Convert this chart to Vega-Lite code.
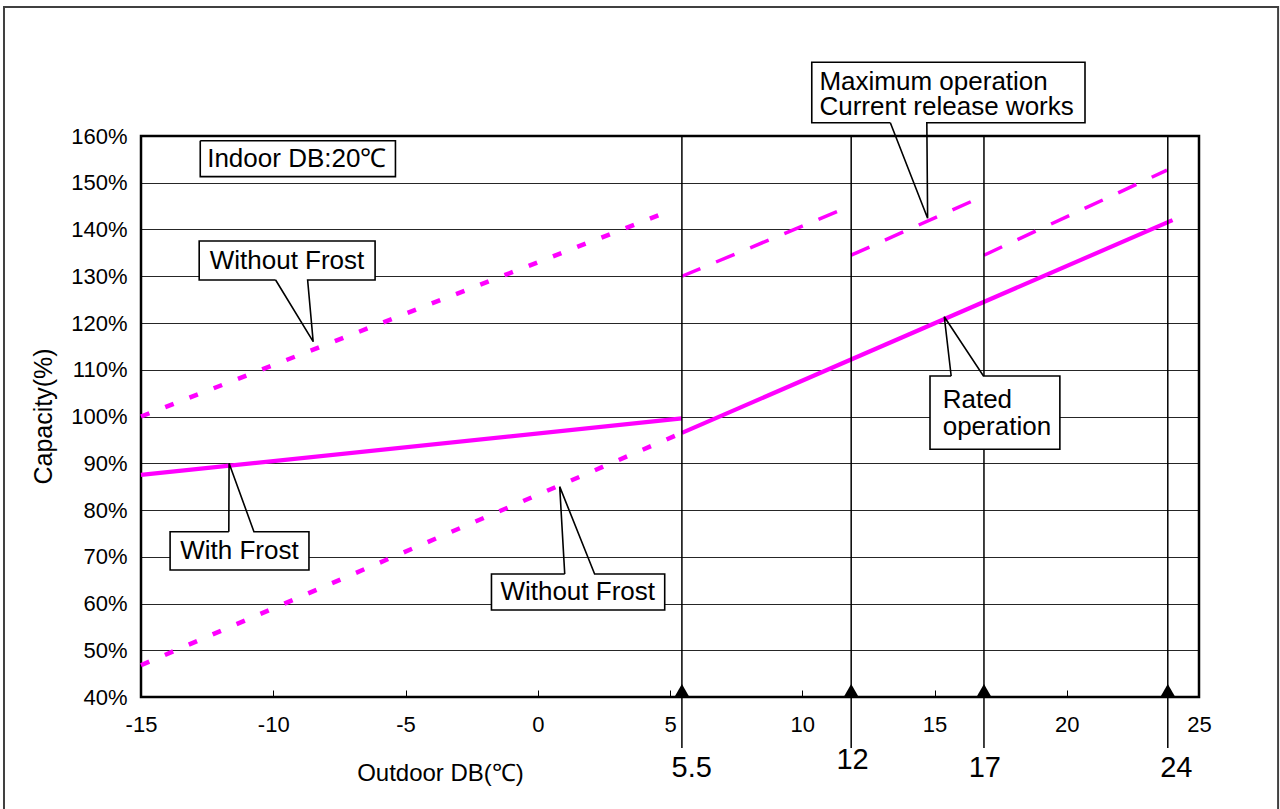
{
  "$schema": "https://vega.github.io/schema/vega-lite/v6.json",
  "width": 1058,
  "height": 561,
  "autosize": {"type": "none"},
  "padding": {"left": 141, "top": 136, "right": 81, "bottom": 112},
  "background": "white",
  "config": {
    "font": "Liberation Sans",
    "view": {"stroke": "#000", "strokeWidth": 2.5},
    "axis": {"labelColor": "#000", "titleColor": "#000", "titleFontWeight": "normal", "labelFont": "Liberation Sans", "titleFont": "Liberation Sans"}
  },
  "datasets": {
    "series": [
      {"id": "With Frost", "kind": "solid", "x": -15, "y": 87.5},
      {"id": "With Frost", "kind": "solid", "x": 5.45, "y": 99.6},
      {"id": "Rated", "kind": "solid", "x": 5.45, "y": 96.5},
      {"id": "Rated", "kind": "solid", "x": 24.0, "y": 142.0},
      {"id": "Without Frost high", "kind": "dot", "x": -15, "y": 100.0},
      {"id": "Without Frost high", "kind": "dot", "x": 5.1, "y": 144.2},
      {"id": "Without Frost low", "kind": "dot", "x": -15, "y": 46.8},
      {"id": "Without Frost low", "kind": "dot", "x": 5.45, "y": 96.5},
      {"id": "Max 1", "kind": "dash", "x": 5.45, "y": 130.0},
      {"id": "Max 1", "kind": "dash", "x": 11.85, "y": 145.1},
      {"id": "Max 2", "kind": "dash", "x": 11.85, "y": 134.5},
      {"id": "Max 2", "kind": "dash", "x": 16.87, "y": 147.2},
      {"id": "Max 3", "kind": "dash", "x": 16.87, "y": 134.5},
      {"id": "Max 3", "kind": "dash", "x": 23.79, "y": 152.7}
    ],
    "vlines": [
      {"label": "5.5", "x": 5.45, "lx": 5.82, "ly": 24.8},
      {"label": "12", "x": 11.85, "lx": 11.9, "ly": 26.5},
      {"label": "17", "x": 16.87, "lx": 16.9, "ly": 24.8},
      {"label": "24", "x": 23.82, "lx": 24.14, "ly": 24.8}
    ],
    "boxes": [
      {"id": "wf1", "x": -12.80, "x2": -6.15, "y": 137.54, "y2": 129.2},
      {"id": "wf2", "x": -13.90, "x2": -8.65, "y": 75.36, "y2": 67.17},
      {"id": "wf3", "x": -1.75, "x2": 4.80, "y": 66.31, "y2": 58.61},
      {"id": "mo", "x": 10.36, "x2": 20.69, "y": 175.76, "y2": 162.84},
      {"id": "ro", "x": 14.83, "x2": 19.74, "y": 108.66, "y2": 92.98},
      {"id": "in", "x": -12.76, "x2": -5.38, "y": 159.0, "y2": 151.3}
    ],
    "callouts": [
      {"id": "wf1", "seq": 0, "x": -9.91, "y": 129.2},
      {"id": "wf1", "seq": 1, "x": -8.49, "y": 116.0},
      {"id": "wf1", "seq": 2, "x": -8.70, "y": 129.2},
      {"id": "wf1", "seq": 3, "x": -6.15, "y": 129.2},
      {"id": "wf1", "seq": 4, "x": -6.15, "y": 137.54},
      {"id": "wf1", "seq": 5, "x": -12.80, "y": 137.54},
      {"id": "wf1", "seq": 6, "x": -12.80, "y": 129.2},
      {"id": "wf1", "seq": 7, "x": -9.91, "y": 129.2},
      {"id": "wf2", "seq": 0, "x": -11.68, "y": 75.36},
      {"id": "wf2", "seq": 1, "x": -11.67, "y": 90.0},
      {"id": "wf2", "seq": 2, "x": -10.73, "y": 75.36},
      {"id": "wf2", "seq": 3, "x": -8.65, "y": 75.36},
      {"id": "wf2", "seq": 4, "x": -8.65, "y": 67.17},
      {"id": "wf2", "seq": 5, "x": -13.90, "y": 67.17},
      {"id": "wf2", "seq": 6, "x": -13.90, "y": 75.36},
      {"id": "wf2", "seq": 7, "x": -11.68, "y": 75.36},
      {"id": "wf3", "seq": 0, "x": 1.02, "y": 66.31},
      {"id": "wf3", "seq": 1, "x": 0.83, "y": 85.0},
      {"id": "wf3", "seq": 2, "x": 2.15, "y": 66.31},
      {"id": "wf3", "seq": 3, "x": 4.80, "y": 66.31},
      {"id": "wf3", "seq": 4, "x": 4.80, "y": 58.61},
      {"id": "wf3", "seq": 5, "x": -1.75, "y": 58.61},
      {"id": "wf3", "seq": 6, "x": -1.75, "y": 66.31},
      {"id": "wf3", "seq": 7, "x": 1.02, "y": 66.31},
      {"id": "mo", "seq": 0, "x": 13.33, "y": 162.84},
      {"id": "mo", "seq": 1, "x": 14.74, "y": 142.4},
      {"id": "mo", "seq": 2, "x": 14.71, "y": 162.84},
      {"id": "mo", "seq": 3, "x": 20.69, "y": 162.84},
      {"id": "mo", "seq": 4, "x": 20.69, "y": 175.76},
      {"id": "mo", "seq": 5, "x": 10.36, "y": 175.76},
      {"id": "mo", "seq": 6, "x": 10.36, "y": 162.84},
      {"id": "mo", "seq": 7, "x": 13.33, "y": 162.84},
      {"id": "ro", "seq": 0, "x": 15.63, "y": 108.66},
      {"id": "ro", "seq": 1, "x": 15.37, "y": 121.35},
      {"id": "ro", "seq": 2, "x": 16.85, "y": 108.66},
      {"id": "ro", "seq": 3, "x": 19.74, "y": 108.66},
      {"id": "ro", "seq": 4, "x": 19.74, "y": 92.98},
      {"id": "ro", "seq": 5, "x": 14.83, "y": 92.98},
      {"id": "ro", "seq": 6, "x": 14.83, "y": 108.66},
      {"id": "ro", "seq": 7, "x": 15.63, "y": 108.66},
      {"id": "in", "seq": 0, "x": -12.76, "y": 159.0},
      {"id": "in", "seq": 1, "x": -5.38, "y": 159.0},
      {"id": "in", "seq": 2, "x": -5.38, "y": 151.3},
      {"id": "in", "seq": 3, "x": -12.76, "y": 151.3},
      {"id": "in", "seq": 4, "x": -12.76, "y": 159.0}
    ],
    "notes_center": [
      {"text": "Indoor DB:20℃", "x": -9.11, "y": 155.1},
      {"text": "Without Frost", "x": -9.48, "y": 133.26},
      {"text": "With Frost", "x": -11.28, "y": 71.23},
      {"text": "Without Frost", "x": 1.51, "y": 62.46}
    ],
    "notes_left": [
      {"text": "Maximum operation", "x": 10.65, "y": 171.6},
      {"text": "Current release works", "x": 10.65, "y": 166.27},
      {"text": "Rated", "x": 15.31, "y": 103.53},
      {"text": "operation", "x": 15.31, "y": 97.82}
    ],
    "frame": [
      {"x": -20.18, "x2": 27.99, "y": 187.59, "y2": 15.4}
    ]
  },
  "layer": [
    {
      "data": {"name": "series"},
      "transform": [{"filter": "datum.kind === 'solid'"}],
      "mark": {"type": "line", "color": "#ff00ff", "strokeWidth": 4.2, "strokeCap": "butt"},
      "encoding": {
        "x": {
          "field": "x", "type": "quantitative",
          "scale": {"domain": [-15, 25], "nice": false, "zero": false},
          "axis": {
            "title": "Outdoor DB(℃)",
            "values": [-15, -10, -5, 0, 5, 10, 15, 20, 25],
            "labelExpr": "'' + datum.value",
            "labelFlush": false,
            "grid": false, "domain": false,
            "tickSize": -7, "tickColor": "#000", "tickWidth": 1,
            "labelFontSize": 22, "labelPadding": 24,
            "titleFontSize": 24, "titleX": 299, "titleY": 76,
            "titleAlign": "center", "titleBaseline": "middle"
          }
        },
        "y": {
          "field": "y", "type": "quantitative",
          "scale": {"domain": [40, 160], "nice": false, "zero": false},
          "axis": {
            "title": "Capacity(%)",
            "values": [40, 50, 60, 70, 80, 90, 100, 110, 120, 130, 140, 150, 160],
            "labelExpr": "datum.value + '%'",
            "grid": true, "gridColor": "#000", "gridWidth": 1, "gridOpacity": 0.85,
            "ticks": false, "domain": false,
            "labelFontSize": 22, "labelPadding": 14,
            "titleFontSize": 25, "titleX": -98, "titleY": 280,
            "titleAlign": "center", "titleBaseline": "middle"
          }
        },
        "detail": {"field": "id"}
      }
    },
    {
      "data": {"name": "series"},
      "transform": [{"filter": "datum.kind === 'dot'"}],
      "mark": {"type": "line", "color": "#ff00ff", "strokeWidth": 4.5, "strokeDash": [9, 17], "strokeCap": "butt"},
      "encoding": {
        "x": {"field": "x", "type": "quantitative"},
        "y": {"field": "y", "type": "quantitative"},
        "detail": {"field": "id"}
      }
    },
    {
      "data": {"name": "series"},
      "transform": [{"filter": "datum.kind === 'dash'"}],
      "mark": {"type": "line", "color": "#ff00ff", "strokeWidth": 3.5, "strokeDash": [20, 17], "strokeCap": "butt"},
      "encoding": {
        "x": {"field": "x", "type": "quantitative"},
        "y": {"field": "y", "type": "quantitative"},
        "detail": {"field": "id"}
      }
    },
    {
      "data": {"name": "vlines"},
      "mark": {"type": "rule", "color": "#000", "strokeWidth": 1.5},
      "encoding": {
        "x": {"field": "x", "type": "quantitative"},
        "y": {"datum": 160},
        "y2": {"datum": 29.1}
      }
    },
    {
      "data": {"name": "vlines"},
      "mark": {"type": "point", "shape": "triangle-up", "filled": true, "color": "#000", "size": 260, "opacity": 1},
      "encoding": {
        "x": {"field": "x", "type": "quantitative"},
        "y": {"datum": 41.3}
      }
    },
    {
      "data": {"name": "vlines"},
      "mark": {"type": "text", "fontSize": 29, "color": "#000", "align": "center", "baseline": "middle"},
      "encoding": {
        "x": {"field": "lx", "type": "quantitative"},
        "y": {"field": "ly", "type": "quantitative"},
        "text": {"field": "label"}
      }
    },
    {
      "data": {"name": "boxes"},
      "mark": {"type": "rect", "fill": "#fff", "stroke": null},
      "encoding": {
        "x": {"field": "x", "type": "quantitative"},
        "x2": {"field": "x2"},
        "y": {"field": "y", "type": "quantitative"},
        "y2": {"field": "y2"}
      }
    },
    {
      "data": {"name": "callouts"},
      "mark": {"type": "line", "color": "#000", "strokeWidth": 1.6, "strokeJoin": "miter"},
      "encoding": {
        "x": {"field": "x", "type": "quantitative"},
        "y": {"field": "y", "type": "quantitative"},
        "detail": {"field": "id"},
        "order": {"field": "seq", "type": "quantitative"}
      }
    },
    {
      "data": {"name": "notes_center"},
      "mark": {"type": "text", "fontSize": 26, "color": "#000", "align": "center", "baseline": "middle"},
      "encoding": {
        "x": {"field": "x", "type": "quantitative"},
        "y": {"field": "y", "type": "quantitative"},
        "text": {"field": "text"}
      }
    },
    {
      "data": {"name": "notes_left"},
      "mark": {"type": "text", "fontSize": 26, "color": "#000", "align": "left", "baseline": "middle"},
      "encoding": {
        "x": {"field": "x", "type": "quantitative"},
        "y": {"field": "y", "type": "quantitative"},
        "text": {"field": "text"}
      }
    },
    {
      "data": {"name": "frame"},
      "mark": {"type": "rect", "fill": null, "stroke": "#404040", "strokeWidth": 2},
      "encoding": {
        "x": {"field": "x", "type": "quantitative"},
        "x2": {"field": "x2"},
        "y": {"field": "y", "type": "quantitative"},
        "y2": {"field": "y2"}
      }
    }
  ]
}
